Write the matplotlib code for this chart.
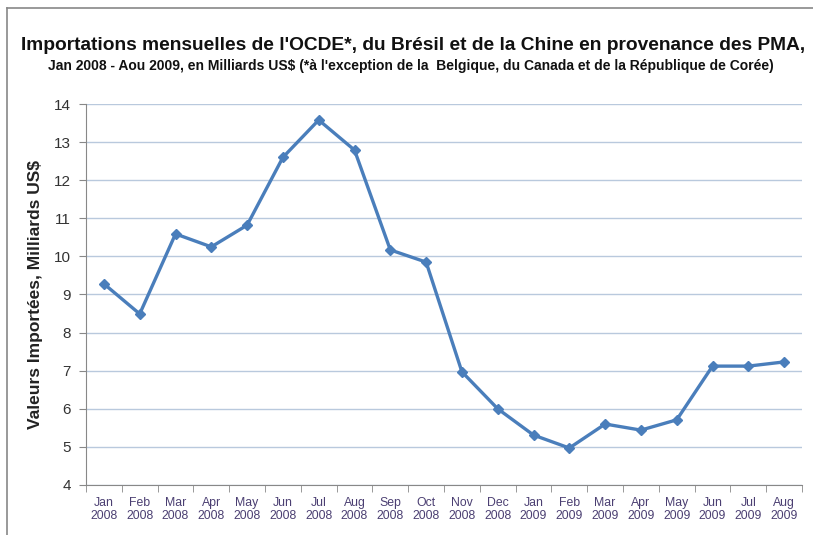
import matplotlib
matplotlib.use("Agg")
import matplotlib.pyplot as plt
from matplotlib.lines import Line2D
import numpy as np

plt.rcParams['font.family'] = ['Liberation Sans', 'DejaVu Sans']

months = ["Jan", "Feb", "Mar", "Apr", "May", "Jun", "Jul", "Aug", "Sep", "Oct", "Nov", "Dec",
          "Jan", "Feb", "Mar", "Apr", "May", "Jun", "Jul", "Aug"]
years = ["2008"] * 12 + ["2009"] * 8
values = [9.28, 8.49, 10.59, 10.25, 10.82, 12.6, 13.58, 12.79, 10.17, 9.85,
          6.97, 6.0, 5.31, 4.97, 5.6, 5.44, 5.71, 7.12, 7.12, 7.23]
yticks = list(range(4, 15))

title = "Importations mensuelles de l'OCDE*, du Brésil et de la Chine en provenance des PMA,"
subtitle = "Jan 2008 - Aou 2009, en Milliards US$ (*à l'exception de la  Belgique, du Canada et de la République de Corée)"
ylabel = "Valeurs Importées, Milliards US$"

fig = plt.figure(figsize=(8.13, 5.35), dpi=100)
ax = fig.add_axes([0.1058, 0.0935, 0.8807, 0.7121])

x = np.arange(len(values))
ax.plot(x, values, color="#4a7ebb", lw=2.4, marker="D", ms=5.5, zorder=3)

ax.set_xlim(-0.5, len(values) - 0.5)
ax.set_ylim(4, 14)
ax.set_yticks(yticks)
ax.set_yticklabels([str(v) for v in yticks], fontsize=11, color="#333333")
ax.set_xticks(x)
ax.set_xticklabels([f"{m}\n{y}" for m, y in zip(months, years)], fontsize=8.8,
                   color="#4b3f72", linespacing=1.1)
ax.tick_params(axis='x', which='major', length=0, pad=9)
ax.set_xticks(np.arange(-0.5, len(values), 1), minor=True)
ax.tick_params(axis='x', which='minor', length=5, color="#888888")
ax.tick_params(axis='y', length=5, color="#888888", pad=6)

ax.grid(axis='y', color="#b9c9dd", lw=1)
ax.set_axisbelow(True)
for s in ["top", "right"]:
    ax.spines[s].set_visible(False)
ax.spines["left"].set_color("#888888")
ax.spines["bottom"].set_color("#888888")

ax.set_ylabel(ylabel, fontsize=12.5, fontweight="bold", color="#222222", labelpad=8)

fig.text(0.508, 0.915, title, ha="center", va="center", fontsize=13.8, fontweight="bold", color="#111111")
fig.text(0.505, 0.877, subtitle, ha="center", va="center", fontsize=10, fontweight="bold", color="#111111")

# outer frame (top and left visible)
fig.add_artist(Line2D([7/813, 1], [1 - 8/535, 1 - 8/535], color="#888888", lw=1.2, transform=fig.transFigure))
fig.add_artist(Line2D([7/813, 7/813], [0, 1 - 8/535], color="#888888", lw=1.2, transform=fig.transFigure))

fig.savefig("out.png", dpi=100)
